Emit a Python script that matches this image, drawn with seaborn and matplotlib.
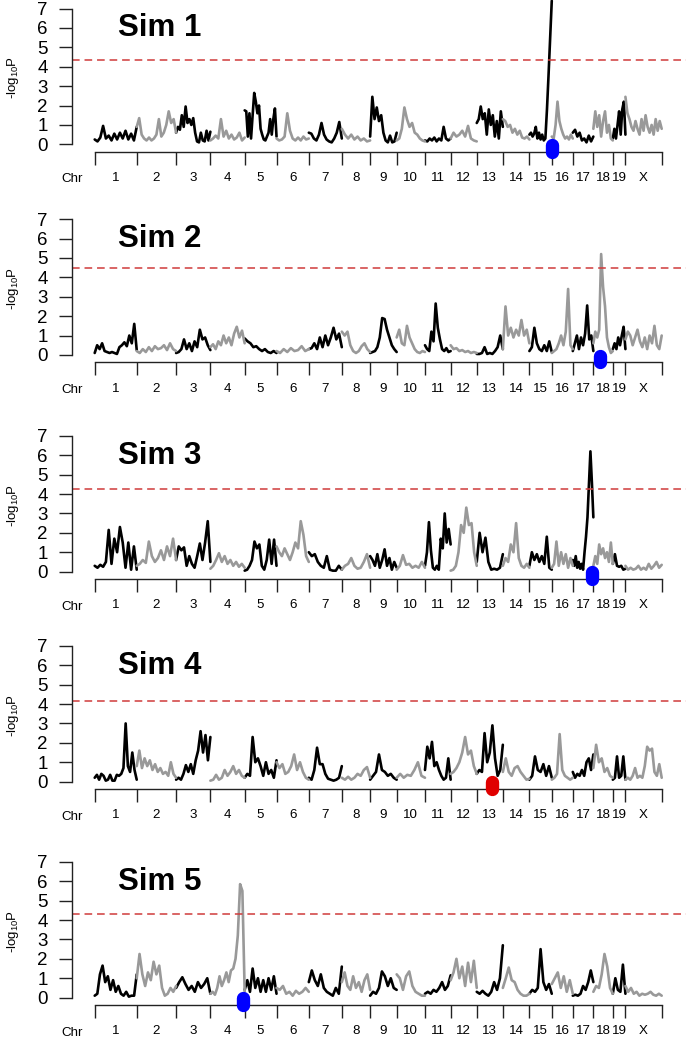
import numpy as np
import pandas as pd
import matplotlib
matplotlib.use("Agg")
import matplotlib.pyplot as plt
import seaborn as sns

# ---------------- data ----------------
chr_names = ["1", "2", "3", "4", "5", "6", "7", "8", "9", "10",
             "11", "12", "13", "14", "15", "16", "17", "18", "19", "X"]
chr_lengths = [95, 89, 77.5, 77.5, 72, 73, 74.6, 64, 60, 64,
               58, 59, 59, 60, 50.6, 47.5, 46.5, 44, 28.5, 82]

sim_titles = ["Sim 1", "Sim 2", "Sim 3", "Sim 4", "Sim 5"]
thresholds = [4.33, 4.5, 4.27, 4.17, 4.33]
qtl_chr = ["15", "18", "17", "13", "4"]
qtl_pos = [50.0, 15.0, 43.6, 35.0, 73.0]
qtl_colors = ["#0000FF", "#0000FF", "#0000FF", "#E00000", "#0000FF"]

sim1_lod = [
    [0.25, 0.15, 0.35, 0.95, 0.3, 0.45, 0.2, 0.55, 0.25, 0.6, 0.3, 0.7, 0.25, 0.55, 0.2, 0.9],
    [0.9, 1.35, 0.5, 0.3, 0.2, 0.35, 0.2, 0.3, 0.5, 1.3, 0.4, 0.6, 1.0, 1.7, 1.1, 1.3, 0.6],
    [0.6, 0.9, 0.75, 1.5, 0.9, 1.95, 1.1, 1.3, 1.0, 1.35, 0.6, 0.15, 0.1, 0.6, 0.2, 0.15, 0.7, 0.2, 0.65],
    [0.2, 0.3, 0.45, 0.3, 1.3, 0.4, 0.7, 0.3, 0.5, 0.25, 0.35, 0.6, 0.2, 0.35],
    [1.75, 1.7, 0.4, 1.6, 0.3, 1.5, 2.65, 2.2, 1.6, 2.0, 0.8, 0.5, 0.25, 0.2, 0.4, 0.6, 1.3, 0.5, 1.3, 1.85, 0.4],
    [0.3, 0.2, 0.25, 0.4, 1.6, 0.7, 0.3, 0.2, 0.35, 0.2, 0.4, 0.25, 0.3],
    [0.6, 0.55, 0.3, 0.2, 0.5, 1.1, 0.5, 0.25, 0.15, 0.1, 0.3, 0.6, 1.15, 0.3],
    [0.8, 0.5, 0.3, 0.5, 0.25, 0.4, 0.2, 0.3, 0.15, 0.2],
    [0.4, 2.45, 1.3, 1.9, 1.2, 1.5, 0.6, 0.2, 0.1, 0.45, 0.1, 0.15, 0.6],
    [0.2, 0.3, 0.8, 1.9, 1.3, 0.9, 1.1, 0.6, 0.5, 0.3, 0.2, 0.15],
    [0.2, 0.15, 0.3, 0.2, 0.35, 0.15, 0.3, 0.2, 0.9, 0.3, 0.2, 0.3],
    [0.3, 0.6, 0.4, 0.5, 0.7, 0.4, 0.95, 0.3, 0.2, 0.15],
    [1.1, 1.3, 1.95, 1.3, 1.6, 0.5, 1.8, 1.0, 1.5, 0.4, 1.2, 0.3, 1.7, 0.9],
    [1.3, 1.2, 0.9, 1.0, 0.6, 0.8, 0.5, 0.7, 0.35, 0.3, 0.4, 0.25],
    [0.5, 0.6, 0.4, 0.55, 0.9, 0.3, 0.6, 0.25, 0.5, 0.2, 0.3, 1.8, 3.6, 5.5, 7.4],
    [0.4, 0.3, 1.0, 2.2, 1.2, 0.8, 0.5, 0.3, 0.4, 0.25, 0.5, 0.3],
    [0.6, 0.75, 0.4, 0.6, 0.2, 0.3, 0.1, 0.45, 0.15, 0.4],
    [0.8, 1.7, 0.9, 1.5, 0.4, 1.2, 1.7, 0.6, 1.0, 0.3, 0.2],
    [0.3, 0.8, 0.3, 1.0, 1.7, 0.5, 1.8, 2.2, 0.5],
    [2.45, 1.6, 1.3, 0.9, 0.7, 1.2, 0.8, 0.5, 1.3, 0.7, 1.5, 0.9, 0.6, 1.0, 0.5, 1.3, 0.7, 1.2, 0.8],
]

sim2_lod = [
    [0.1, 0.5, 0.3, 0.6, 0.2, 0.15, 0.1, 0.15, 0.1, 0.05, 0.4, 0.5, 0.65, 0.45, 1.0, 0.6, 1.6, 0.25],
    [0.2, 0.1, 0.3, 0.15, 0.4, 0.2, 0.45, 0.3, 0.35, 0.5, 0.25, 0.6, 0.3, 0.2],
    [0.1, 0.15, 0.3, 0.8, 0.3, 0.6, 0.2, 0.7, 0.4, 1.3, 0.8, 0.9, 0.5, 0.25],
    [0.4, 0.55, 0.3, 0.7, 0.5, 1.0, 0.6, 0.9, 0.5, 1.1, 1.45, 0.9, 1.25, 0.6],
    [0.85, 0.7, 0.6, 0.4, 0.45, 0.3, 0.2, 0.3, 0.15, 0.1, 0.2, 0.1],
    [0.2, 0.1, 0.3, 0.15, 0.35, 0.2, 0.25, 0.45, 0.2, 0.3],
    [0.3, 0.35, 0.6, 0.3, 0.9, 0.4, 1.0, 0.5, 0.9, 1.4, 0.8, 1.1, 0.4],
    [1.2, 1.0, 1.2, 0.5, 0.2, 0.1, 0.2, 0.45, 0.6, 0.3, 0.15],
    [0.1, 0.15, 0.2, 0.4, 0.9, 1.9, 1.85, 1.3, 0.9, 0.5, 0.3, 0.15],
    [0.9, 1.3, 0.6, 0.5, 1.5, 0.9, 0.6, 0.3, 0.15, 0.1, 0.2, 0.15],
    [0.5, 0.3, 0.2, 1.2, 0.7, 2.65, 1.4, 0.8, 0.3, 0.2, 0.35, 0.15, 0.2],
    [0.5, 0.3, 0.35, 0.2, 0.25, 0.15, 0.2, 0.1, 0.15, 0.1],
    [0.05, 0.05, 0.1, 0.4, 0.05, 0.1, 0.05, 0.2, 0.4, 1.0, 0.3],
    [0.3, 2.5, 1.0, 1.4, 0.9, 1.3, 1.0, 1.8, 1.0, 1.3, 0.6],
    [0.2, 0.4, 1.4, 0.6, 0.3, 0.2, 0.5, 0.2, 0.7, 0.15],
    [0.1, 0.2, 0.3, 0.6, 1.0, 0.5, 1.2, 3.4, 0.5, 0.3],
    [0.2, 0.6, 1.0, 0.3, 0.9, 0.5, 1.1, 2.55, 0.8, 1.0, 0.2],
    [0.6, 1.2, 0.9, 1.3, 5.2, 3.5, 2.5, 0.9, 0.4, 0.1, 0.2],
    [0.3, 0.6, 0.3, 0.9, 0.5, 1.0, 1.45, 0.3],
    [0.8, 1.2, 1.0, 0.5, 0.9, 1.3, 0.7, 0.4, 0.9, 0.3, 1.0, 0.6, 1.5, 0.5, 0.3, 1.0],
]

sim3_lod = [
    [0.3, 0.2, 0.35, 0.25, 0.5, 2.15, 0.4, 1.7, 1.0, 2.3, 1.5, 0.2, 1.5, 0.1, 1.3, 0.1],
    [0.3, 0.4, 0.6, 0.45, 1.55, 0.8, 0.5, 0.7, 1.1, 0.6, 1.3, 0.8, 1.7, 0.6],
    [0.6, 1.3, 1.1, 1.25, 0.3, 0.8, 0.4, 0.2, 0.8, 1.45, 0.6, 1.5, 2.6, 0.5],
    [0.15, 0.3, 0.6, 0.95, 0.5, 0.8, 0.4, 0.6, 0.3, 0.5, 0.25, 0.4, 0.2],
    [0.05, 0.1, 0.3, 0.6, 1.55, 1.2, 1.4, 0.3, 0.1, 0.6, 1.65, 0.4, 1.65, 0.3],
    [1.3, 1.0, 0.8, 1.2, 0.9, 0.6, 1.0, 1.5, 1.2, 2.6, 1.9, 0.8, 0.5],
    [1.0, 0.8, 0.9, 0.5, 0.3, 0.2, 0.8, 0.1, 0.05, 0.05, 0.3, 0.1],
    [0.1, 0.3, 0.4, 0.7, 0.3, 0.15, 0.2, 0.5, 0.9, 0.2],
    [0.8, 0.6, 0.3, 0.9, 0.2, 0.6, 1.15, 0.3, 0.7, 0.1, 0.5, 0.2],
    [0.1, 0.3, 0.85, 0.35, 0.4, 0.2, 0.3, 0.2, 0.5, 0.2],
    [0.3, 1.0, 2.55, 1.1, 0.2, 0.1, 0.3, 0.1, 1.7, 1.2, 3.0, 1.5, 2.2, 1.4],
    [0.05, 0.1, 0.3, 1.0, 2.4, 2.0, 3.3, 2.4, 2.5, 1.0, 0.3],
    [0.5, 2.0, 1.0, 1.75, 0.5, 0.1, 0.15, 0.1, 0.2, 0.9],
    [0.3, 0.7, 0.5, 1.4, 1.0, 2.5, 0.7, 0.3, 0.2, 0.4, 0.2],
    [0.3, 1.0, 0.6, 0.9, 0.5, 0.8, 0.4, 1.8, 0.2, 0.1],
    [0.2, 0.4, 1.55, 0.3, 1.0, 0.4, 0.9, 0.2, 0.7, 0.3],
    [0.6, 0.3, 0.8, 0.2, 0.5, 0.15, 0.4, 0.1, 1.0, 1.8, 2.8, 4.5, 6.2, 4.6, 2.8],
    [0.3, 0.8, 0.4, 1.4, 0.9, 1.2, 0.7, 1.0, 0.5, 1.5, 0.4],
    [0.4, 0.9, 0.3, 0.25, 0.3, 0.1, 0.15],
    [0.3, 0.1, 0.2, 0.1, 0.15, 0.3, 0.1, 0.2, 0.1, 0.4, 0.15, 0.3, 0.5, 0.2, 0.35],
]

sim4_lod = [
    [0.2, 0.35, 0.1, 0.4, 0.3, 0.05, 0.1, 0.35, 0.05, 0.05, 0.35, 0.3, 0.4, 0.7, 3.0, 0.8, 0.5, 1.5, 0.6, 0.1],
    [0.8, 1.6, 0.7, 1.2, 0.8, 1.1, 0.6, 0.9, 0.5, 0.7, 0.4, 0.5, 0.3, 1.0, 0.4, 0.2],
    [0.1, 0.2, 0.1, 0.4, 0.85, 0.5, 0.9, 0.4, 1.1, 1.6, 2.6, 1.5, 2.4, 1.1, 2.3],
    [0.05, 0.1, 0.35, 0.1, 0.2, 0.6, 0.3, 0.5, 0.8, 0.4, 0.6, 0.3, 0.2],
    [0.2, 0.4, 0.3, 2.3, 1.0, 1.2, 0.8, 0.3, 1.0, 0.4, 0.6, 0.2, 1.1],
    [1.0, 0.7, 0.9, 0.4, 0.5, 0.8, 1.4, 0.6, 1.0, 0.5, 0.2, 0.1],
    [0.2, 0.1, 0.6, 1.75, 0.9, 0.9, 0.4, 0.15, 0.1, 0.05, 0.1, 0.2, 0.8],
    [0.2, 0.1, 0.25, 0.1, 0.2, 0.4, 0.3, 0.6, 0.75, 0.2],
    [0.1, 0.3, 0.5, 1.4, 0.6, 0.5, 0.3, 0.4, 0.2, 0.1],
    [0.2, 0.4, 0.2, 0.35, 0.3, 0.6, 1.0, 0.3, 0.2],
    [0.6, 1.8, 1.2, 2.05, 0.8, 1.0, 0.6, 0.3, 0.1, 0.2, 1.2, 0.1],
    [0.4, 0.5, 0.7, 1.0, 1.5, 2.3, 1.4, 1.6, 0.8, 0.4],
    [0.4, 0.6, 0.5, 2.5, 1.0, 1.5, 2.9, 1.2, 0.3, 0.6, 1.9],
    [0.5, 1.2, 0.5, 0.3, 0.7, 0.8, 0.5, 0.3, 0.1, 0.15],
    [0.1, 0.3, 1.3, 0.6, 0.5, 0.9, 0.3, 0.8, 0.2],
    [0.1, 0.2, 0.4, 2.45, 0.6, 0.3, 0.2, 0.1, 0.2],
    [0.5, 0.2, 0.4, 0.3, 0.6, 0.3, 1.0, 1.2, 0.6, 1.4],
    [0.7, 1.9, 1.0, 1.2, 0.5, 0.7, 0.3, 0.2],
    [0.1, 0.2, 1.3, 0.2, 0.3, 1.3, 0.1],
    [0.1, 0.2, 0.1, 0.3, 0.7, 0.2, 0.3, 0.2, 0.8, 1.8, 1.6, 1.7, 0.5, 0.3, 0.9, 0.2],
]

sim5_lod = [
    [0.1, 0.2, 1.2, 1.65, 0.8, 1.1, 0.4, 0.9, 0.3, 0.6, 0.2, 0.1, 0.3, 0.05, 0.1, 0.1, 1.2],
    [1.0, 2.25, 1.2, 0.6, 1.3, 0.9, 1.85, 1.2, 1.65, 0.5, 0.1, 0.2, 0.5, 0.3, 0.6],
    [0.5, 0.8, 1.05, 0.7, 0.4, 0.6, 0.3, 0.8, 0.5, 0.7, 1.0, 0.2],
    [0.2, 0.3, 0.15, 0.5, 1.1, 0.6, 0.9, 1.3, 0.8, 1.4, 1.5, 2.0, 3.2, 5.85, 5.5, 0.3],
    [0.4, 0.9, 0.3, 1.5, 0.5, 1.0, 0.3, 0.9, 0.3, 1.0, 0.4, 1.1, 0.2],
    [0.5, 0.4, 0.6, 0.2, 0.3, 0.1, 0.35, 0.2, 0.3, 0.5, 0.3],
    [0.8, 1.4, 0.9, 0.6, 1.2, 0.5, 0.3, 0.2, 0.1, 0.5, 0.2, 1.6],
    [0.8, 1.3, 0.6, 0.4, 1.1, 0.5, 0.8, 0.3, 0.9, 1.2, 0.4],
    [0.1, 0.3, 0.2, 0.5, 1.35, 1.1, 0.6, 1.0, 0.5, 0.4],
    [1.2, 1.0, 0.4, 1.1, 1.35, 0.6, 0.3, 0.2, 0.1, 0.1],
    [0.2, 0.3, 0.2, 0.4, 0.3, 0.5, 0.8, 0.4, 0.6, 1.15],
    [0.9, 1.3, 2.0, 1.0, 1.6, 0.6, 1.8, 0.8, 1.9, 0.5],
    [0.3, 0.2, 0.35, 0.2, 0.1, 0.3, 0.8, 0.4, 1.0, 2.7],
    [0.5, 1.0, 1.55, 0.9, 0.8, 0.4, 0.2, 0.1, 0.1, 0.2],
    [0.2, 0.4, 0.3, 0.5, 2.5, 0.8, 0.4, 0.7, 0.2],
    [0.7, 1.0, 1.3, 0.5, 1.1, 0.3, 0.9, 0.2],
    [0.1, 0.15, 0.1, 0.2, 0.6, 0.4, 0.8, 1.4, 0.8],
    [0.3, 0.6, 0.5, 1.2, 2.25, 1.6, 0.5, 0.2],
    [0.2, 1.0, 0.4, 0.3, 1.7, 0.2],
    [0.6, 0.3, 0.5, 0.2, 0.3, 0.1, 0.2, 0.15, 0.2, 0.3, 0.15, 0.1, 0.2, 0.1],
]

all_sims = [sim1_lod, sim2_lod, sim3_lod, sim4_lod, sim5_lod]

# ---------------- style ----------------
sns.set_theme(style="white")
plt.rcParams["font.family"] = ["Liberation Sans", "DejaVu Sans"]
plt.rcParams["mathtext.default"] = "regular"
plt.rcParams["text.color"] = "black"
plt.rcParams["axes.labelcolor"] = "black"
plt.rcParams["xtick.color"] = "black"
plt.rcParams["ytick.color"] = "black"
plt.rcParams["xtick.labelcolor"] = "black"
plt.rcParams["ytick.labelcolor"] = "black"

W, H = 686, 1038
fig = plt.figure(figsize=(W / 100, H / 100), dpi=100)

chr_starts = np.concatenate([[0.0], np.cumsum(chr_lengths)[:-1]])
chr_ends = np.cumsum(chr_lengths)
total_len = float(chr_ends[-1])
chr_mids = chr_starts + np.array(chr_lengths) / 2.0

# pixel geometry
y_axis_px = 71.7
data_left_px = 94.7
data_right_px = 661.7
scale = (data_right_px - data_left_px) / total_len
xaxis_rows = [151.7, 362.3, 579.0, 789.0, 1005.0]
unit_px = 19.4
ylo, yhi = -0.38, 7.5

xlim_left = -(data_left_px - y_axis_px) / scale
xlim_right = total_len + (W - data_right_px) / scale

for i, lods in enumerate(all_sims):
    rows = []
    for k, vals in enumerate(lods):
        pos = chr_starts[k] + np.linspace(0, chr_lengths[k], len(vals))
        shade = "odd" if k % 2 == 0 else "even"
        for p, v in zip(pos, vals):
            rows.append((p, v, chr_names[k], shade))
    df = pd.DataFrame(rows, columns=["pos", "lod", "chrom", "shade"])

    bottom_px = xaxis_rows[i]
    height_px = (yhi - ylo) * unit_px
    ax = fig.add_axes([y_axis_px / W, 1 - bottom_px / H,
                       (W - y_axis_px) / W, height_px / H])
    sns.lineplot(data=df, x="pos", y="lod", units="chrom", estimator=None,
                 hue="shade", palette={"odd": "black", "even": "#999999"},
                 legend=False, linewidth=1.9, sort=False, ax=ax)
    for ln in ax.lines:
        ln.set_clip_on(False)

    ax.set_xlim(xlim_left, xlim_right)
    ax.set_ylim(ylo, yhi)
    ax.set_xlabel("")
    ax.set_ylabel("")

    ax.axhline(thresholds[i], color="#D03A3A", linewidth=1.1,
               linestyle=(0, (5, 3.2)), clip_on=False)

    k = chr_names.index(qtl_chr[i])
    qx = chr_starts[k] + qtl_pos[i]
    ax.plot([qx, qx], [-0.37, -0.03], color=qtl_colors[i], linewidth=9.6,
            solid_capstyle="round", clip_on=False, zorder=5)

    for s in ["top", "right"]:
        ax.spines[s].set_visible(False)
    ax.spines["left"].set_bounds(0, 7)
    ax.spines["bottom"].set_bounds(0, total_len)
    for s in ["left", "bottom"]:
        ax.spines[s].set_color("#222222")
        ax.spines[s].set_linewidth(1.0)

    ax.set_yticks(range(0, 8))
    ax.set_yticklabels([str(v) for v in range(0, 8)], fontsize=13.5)
    ax.tick_params(axis="y", direction="out", length=9.6, width=1.0,
                   color="#222222", labelcolor="black", pad=7.5, left=True)

    ax.set_xticks(list(chr_starts) + [total_len])
    ax.set_xticklabels([])
    ax.set_xticks(chr_mids, minor=True)
    ax.set_xticklabels(chr_names, minor=True, fontsize=9.6)
    ax.tick_params(axis="x", which="major", direction="out", length=9.6,
                   width=1.0, color="#222222", bottom=True)
    ax.tick_params(axis="x", which="minor", length=0, pad=14.6, bottom=True,
                   labelcolor="black")

    ax.annotate("Chr", xy=(0, 0), xycoords="axes fraction",
                xytext=(0, -20.0), textcoords="offset points",
                ha="center", va="center", fontsize=9.6, color="black")

    fig.text(118 / W, 1 - (bottom_px - 115.5) / H, sim_titles[i],
             fontsize=22.5, fontweight="bold", ha="left", va="baseline",
             color="black")
    fig.text(13 / W, 1 - (bottom_px - 74) / H, "-log$_{10}$P",
             rotation=90, ha="center", va="center", fontsize=9.5,
             color="black")

fig.savefig("out.png", dpi=100)
